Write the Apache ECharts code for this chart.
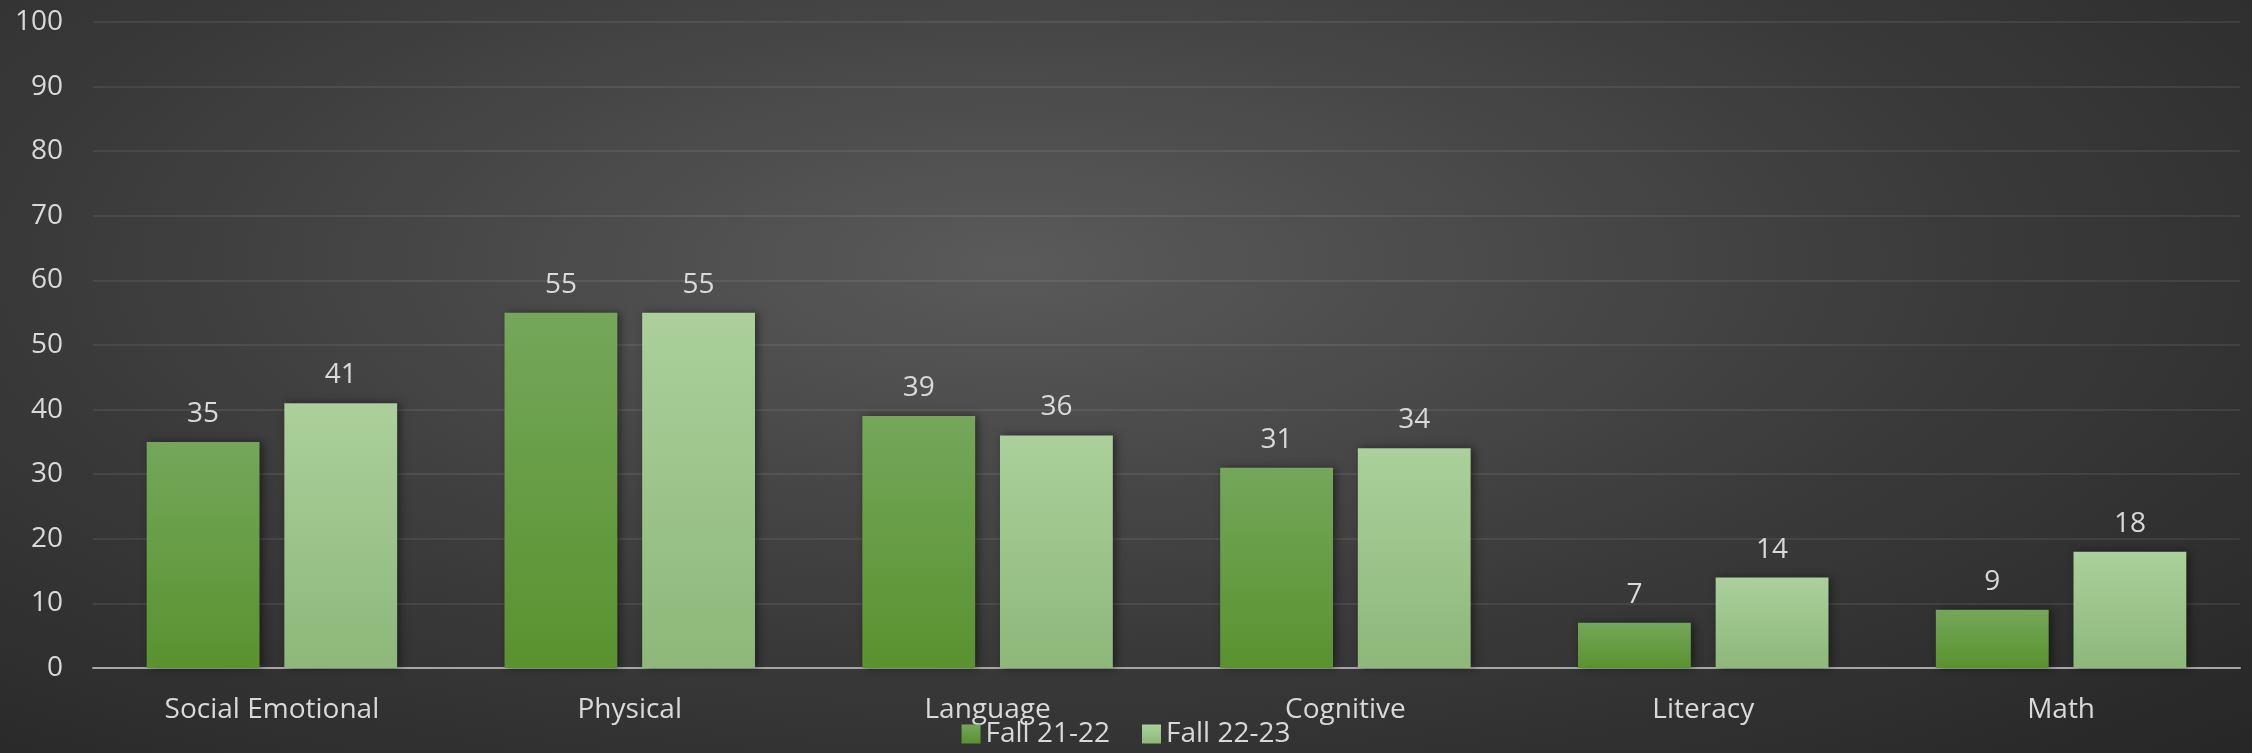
<!DOCTYPE html>
<html>
<head>
<meta charset="utf-8">
<script src="https://cdn.jsdelivr.net/npm/echarts@6/dist/echarts.min.js"></script>
<style>
  html, body { margin: 0; padding: 0; }
  body {
    width: 2252px; height: 753px;
    background: radial-gradient(ellipse farthest-corner at 45% 35%, #5a5a5a 0%, #3a3a3a 55%, #262626 100%);
  }
  #main { width: 2252px; height: 753px; }
</style>
</head>
<body>
<div id="main"></div>
<script>
// 类目与数据
var categories = ['Social Emotional', 'Physical', 'Language', 'Cognitive', 'Literacy', 'Math'];
var fall2122 = [35, 55, 39, 31, 7, 9];
var fall2223 = [41, 55, 36, 34, 14, 18];
var seriesNames = ['Fall 21-22', 'Fall 22-23'];

var textColor = '#d9d9d9';
var fontFamily = '"Open Sans", "Noto Sans", sans-serif';

var chart = echarts.init(document.getElementById('main'), null, { renderer: 'canvas' });

function grad(top, bottom) {
  return new echarts.graphic.LinearGradient(0, 0, 0, 1, [
    { offset: 0, color: top },
    { offset: 1, color: bottom }
  ]);
}

var option = {
  backgroundColor: 'transparent',
  textStyle: { fontFamily: fontFamily },
  grid: {   // 绘图区
    left: 93,
    right: 12,
    top: 22,
    bottom: 85
  },
  legend: {
    data: seriesNames,
    bottom: 0,
    left: 'center',
    icon: 'rect',
    itemWidth: 19,
    itemHeight: 19,
    itemGap: 32,
    textStyle: { color: textColor, fontSize: 28, fontFamily: fontFamily }
  },
  xAxis: {
    type: 'category',
    data: categories,
    axisLine: { lineStyle: { color: '#a6a6a6', width: 2 } },
    axisTick: { show: false },
    axisLabel: { color: textColor, fontSize: 28, margin: 28, fontFamily: fontFamily }
  },
  yAxis: {
    type: 'value',
    min: 0,
    max: 100,
    interval: 10,
    axisLine: { show: false },
    axisTick: { show: false },
    splitLine: { lineStyle: { color: 'rgba(255,255,255,0.1)', width: 1.5 } },
    axisLabel: { color: textColor, fontSize: 28, margin: 30, fontFamily: fontFamily }
  },
  series: [{
    name: seriesNames[0],
    type: 'bar',
    data: fall2122,
    barGap: '22%',
    barCategoryGap: '30%',
    itemStyle: {
      color: grad('#74a75a', '#5a922f'),
      shadowColor: 'rgba(0,0,0,0.45)',
      shadowBlur: 8,
      shadowOffsetX: 3
    },
    label: { show: true, position: 'top', distance: 14, color: textColor, fontSize: 28, fontFamily: fontFamily }
  }, {
    name: seriesNames[1],
    type: 'bar',
    data: fall2223,
    itemStyle: {
      color: grad('#abd09b', '#8db879'),
      shadowColor: 'rgba(0,0,0,0.45)',
      shadowBlur: 8,
      shadowOffsetX: 3
    },
    label: { show: true, position: 'top', distance: 14, color: textColor, fontSize: 28, fontFamily: fontFamily }
  }]
};

chart.setOption(option);
</script>
</body>
</html>
